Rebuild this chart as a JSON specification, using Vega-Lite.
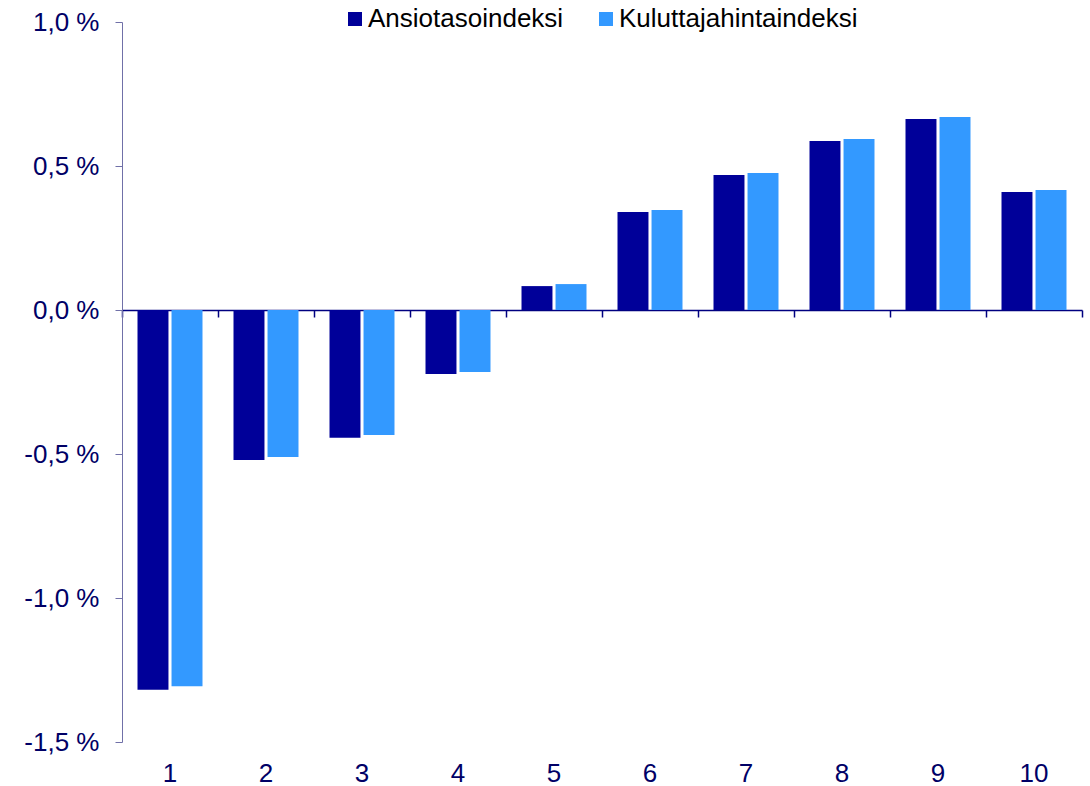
{
  "$schema": "https://vega.github.io/schema/vega-lite/v6.json",
  "width": 960,
  "height": 720,
  "autosize": {"type": "none"},
  "padding": {"left": 122, "top": 22, "right": 8, "bottom": 44},
  "config": {"view": {"stroke": null}, "font": "Liberation Sans"},
  "data": {
    "values": [
      {"k": 1, "s": "Ansiotasoindeksi", "v": -1.319},
      {"k": 1, "s": "Kuluttajahintaindeksi", "v": -1.306},
      {"k": 2, "s": "Ansiotasoindeksi", "v": -0.521},
      {"k": 2, "s": "Kuluttajahintaindeksi", "v": -0.51},
      {"k": 3, "s": "Ansiotasoindeksi", "v": -0.444},
      {"k": 3, "s": "Kuluttajahintaindeksi", "v": -0.434},
      {"k": 4, "s": "Ansiotasoindeksi", "v": -0.222},
      {"k": 4, "s": "Kuluttajahintaindeksi", "v": -0.215},
      {"k": 5, "s": "Ansiotasoindeksi", "v": 0.083},
      {"k": 5, "s": "Kuluttajahintaindeksi", "v": 0.09},
      {"k": 6, "s": "Ansiotasoindeksi", "v": 0.34},
      {"k": 6, "s": "Kuluttajahintaindeksi", "v": 0.347},
      {"k": 7, "s": "Ansiotasoindeksi", "v": 0.469},
      {"k": 7, "s": "Kuluttajahintaindeksi", "v": 0.476},
      {"k": 8, "s": "Ansiotasoindeksi", "v": 0.587},
      {"k": 8, "s": "Kuluttajahintaindeksi", "v": 0.594},
      {"k": 9, "s": "Ansiotasoindeksi", "v": 0.663},
      {"k": 9, "s": "Kuluttajahintaindeksi", "v": 0.67},
      {"k": 10, "s": "Ansiotasoindeksi", "v": 0.41},
      {"k": 10, "s": "Kuluttajahintaindeksi", "v": 0.417}
    ]
  },
  "layer": [
    {
      "mark": {"type": "bar"},
      "encoding": {
        "x": {
          "field": "k",
          "type": "ordinal",
          "scale": {"paddingInner": 0.323, "paddingOuter": 0.1615},
          "axis": {
            "orient": "bottom",
            "title": null,
            "domain": false,
            "ticks": false,
            "labelAngle": 0,
            "labelFontSize": 26,
            "labelColor": "#000066",
            "labelPadding": 18
          }
        },
        "xOffset": {
          "field": "s",
          "type": "nominal",
          "sort": ["Ansiotasoindeksi", "Kuluttajahintaindeksi"],
          "scale": {"paddingInner": 0.09, "paddingOuter": 0}
        },
        "y": {
          "field": "v",
          "type": "quantitative",
          "scale": {"domain": [-1.5, 1.0], "nice": false, "zero": false},
          "axis": {
            "title": null,
            "values": [-1.5, -1, -0.5, 0, 0.5, 1],
            "grid": false,
            "domainColor": "#7070a8",
            "tickColor": "#7070a8",
            "tickSize": 7,
            "labelFontSize": 26,
            "labelColor": "#000066",
            "labelPadding": 16,
            "labelFlush": false,
            "labelOverlap": false,
            "labelExpr": "replace(replace(format(datum.value,'.1f'),'.',','),'\u2212','-') + ' %'"
          }
        },
        "color": {
          "field": "s",
          "type": "nominal",
          "sort": ["Ansiotasoindeksi", "Kuluttajahintaindeksi"],
          "scale": {"domain": ["Ansiotasoindeksi", "Kuluttajahintaindeksi"], "range": ["#000099", "#3399FF"]},
          "legend": {
            "orient": "none",
            "legendX": 220,
            "legendY": -16,
            "direction": "horizontal",
            "title": null,
            "symbolType": "square",
            "symbolSize": 196,
            "symbolStrokeWidth": 0,
            "labelFontSize": 26,
            "labelColor": "#000000",
            "labelLimit": 400,
            "columnPadding": 29,
            "labelOffset": 0
          }
        }
      }
    },
    {
      "mark": {"type": "point", "opacity": 0},
      "encoding": {
        "x": {
          "field": "k",
          "type": "ordinal",
          "scale": {"paddingInner": 0, "paddingOuter": 0},
          "axis": {
            "orient": "bottom",
            "offset": -432,
            "labels": false,
            "title": null,
            "domainColor": "#000080",
            "domainWidth": 1.5,
            "tickColor": "#000080",
            "tickWidth": 1.5,
            "tickSize": 7,
            "tickBand": "extent"
          }
        }
      }
    }
  ],
  "resolve": {"scale": {"x": "independent"}, "axis": {"x": "independent"}}
}
